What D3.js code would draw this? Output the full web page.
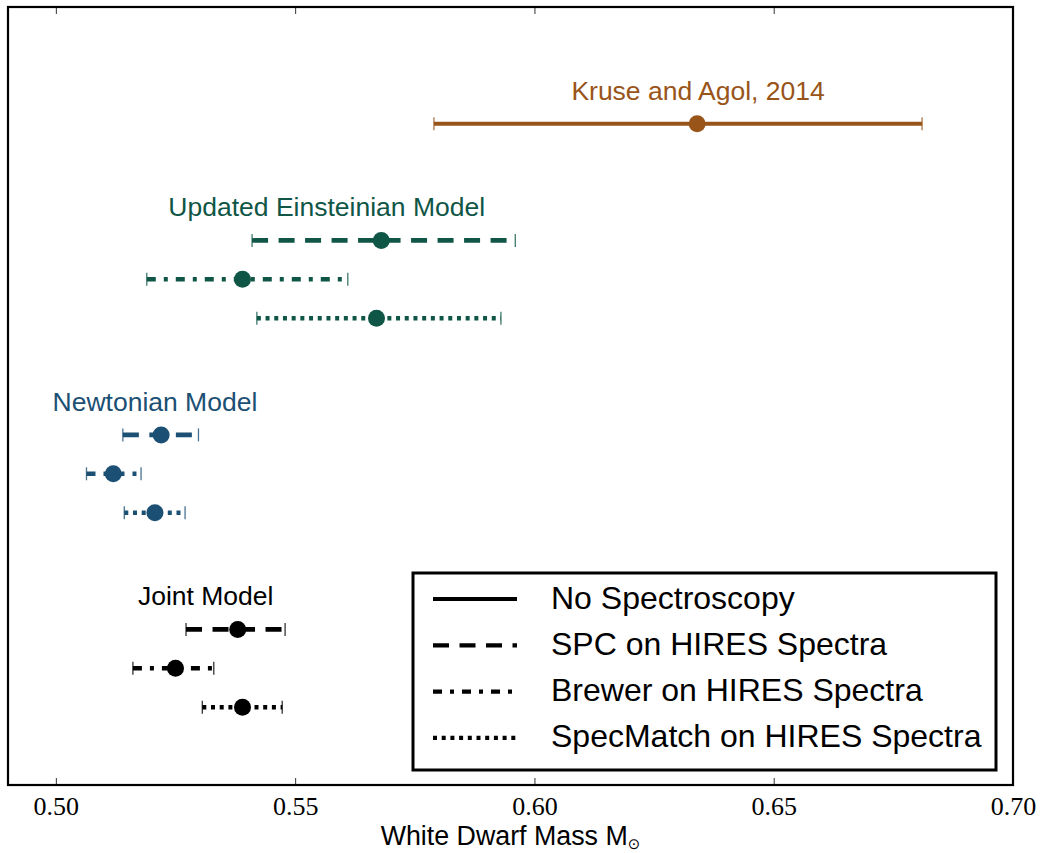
<!DOCTYPE html>
<html>
<head>
<meta charset="utf-8">
<script src="https://cdn.jsdelivr.net/npm/d3@7"></script>
<style>
  body { margin: 0; background: #fff; }
  text { font-family: "Liberation Sans", Arial, sans-serif; }
</style>
</head>
<body>
<svg id="chart" width="1040" height="853"></svg>
<script>
// groups and methods
const groupNames = ['Kruse and Agol, 2014', 'Updated Einsteinian Model', 'Newtonian Model', 'Joint Model'];
const groupLabelMass = [0.6342, 0.5566, 0.5207, 0.5313];
const methodNames = ['No Spectroscopy', 'SPC on HIRES Spectra', 'Brewer on HIRES Spectra', 'SpecMatch on HIRES Spectra'];

// one entry per error bar, top to bottom
const rowGroup  = [0, 1, 1, 1, 2, 2, 2, 3, 3, 3];
const rowMethod = [0, 1, 2, 3, 1, 2, 3, 1, 2, 3];
const rowPos    = [0, 3, 4, 5, 8, 9, 10, 13, 14, 15];
const massMid   = [0.634, 0.568, 0.539, 0.567, 0.522, 0.512, 0.5207, 0.538, 0.525, 0.539];
const massLow   = [0.579, 0.541, 0.519, 0.542, 0.514, 0.5064, 0.5143, 0.5272, 0.5161, 0.5306];
const massHigh  = [0.681, 0.596, 0.561, 0.593, 0.5298, 0.5178, 0.527, 0.5479, 0.533, 0.5473];

const xTicks = [0.50, 0.55, 0.60, 0.65, 0.70];

const groupColors = ['#99541a', '#0f5646', '#1b4f73', '#000000'];
const methodDash = [null, '16,10.5', '9,8,4,8', '4,4.7'];

const svg = d3.select('#chart');
const frame = {left: 8, top: 7, right: 1013, bottom: 785};

const x = d3.scaleLinear().domain([0.49, 0.70]).range([frame.left, frame.right]);
const y = d3.scaleLinear().domain([-3, 17]).range([frame.top, frame.bottom]);

const rows = massMid.map((m, i) => ({
    mid: m, lo: massLow[i], hi: massHigh[i],
    group: rowGroup[i], method: rowMethod[i], pos: rowPos[i]
}));

// axes
const axisB = svg.append('g').attr('transform', 'translate(0,' + frame.bottom + ')')
    .call(d3.axisBottom(x).tickValues(xTicks).tickFormat(d3.format('.2f')).tickSizeInner(-7).tickSizeOuter(0).tickPadding(11.5));
axisB.select('.domain').remove();
axisB.selectAll('.tick line').attr('stroke', '#333').attr('stroke-width', 1);
axisB.selectAll('.tick text')
    .style('font-family', '"Liberation Serif", "Times New Roman", serif')
    .attr('font-size', 26).attr('fill', '#000');

const axisT = svg.append('g').attr('transform', 'translate(0,' + frame.top + ')')
    .call(d3.axisTop(x).tickValues(xTicks).tickFormat('').tickSizeInner(-7).tickSizeOuter(0));
axisT.select('.domain').remove();
axisT.selectAll('.tick line').attr('stroke', '#333').attr('stroke-width', 1);

// frame
svg.append('rect')
    .attr('x', frame.left).attr('y', frame.top)
    .attr('width', frame.right - frame.left).attr('height', frame.bottom - frame.top)
    .attr('fill', 'none').attr('stroke', '#000').attr('stroke-width', 2.2);

// error bars
const bars = svg.append('g').selectAll('g.bar').data(rows).enter().append('g').classed('bar', true);

bars.append('line')
    .attr('x1', (d) => x(d.lo)).attr('x2', (d) => x(d.hi))
    .attr('y1', (d) => y(d.pos)).attr('y2', (d) => y(d.pos))
    .attr('stroke', (d) => groupColors[d.group])
    .attr('stroke-width', (d) => d.method === 0 ? 4 : 4.6)
    .attr('stroke-dasharray', (d) => methodDash[d.method]);

['lo', 'hi'].forEach((k) => {
    bars.append('line')
        .attr('x1', (d) => x(d[k])).attr('x2', (d) => x(d[k]))
        .attr('y1', (d) => y(d.pos) - 6.5).attr('y2', (d) => y(d.pos) + 6.5)
        .attr('stroke', (d) => groupColors[d.group])
        .attr('stroke-opacity', 0.8)
        .attr('stroke-width', 1.3);
});

bars.append('circle')
    .attr('cx', (d) => x(d.mid)).attr('cy', (d) => y(d.pos))
    .attr('r', 8.5)
    .attr('fill', (d) => groupColors[d.group]);

// group labels, above the first row of each group
svg.append('g').selectAll('text').data(groupNames).enter().append('text')
    .attr('x', (d, i) => x(groupLabelMass[i]))
    .attr('y', (d, i) => y(rowPos[rowGroup.indexOf(i)]) - 24)
    .attr('text-anchor', 'middle')
    .attr('font-size', 26.5)
    .attr('fill', (d, i) => groupColors[i])
    .text((d) => d);

// legend
const legend = svg.append('g');
legend.append('rect')
    .attr('x', 413).attr('y', 573).attr('width', 583).attr('height', 197)
    .attr('fill', '#fff').attr('stroke', '#000').attr('stroke-width', 3);

const legendRows = legend.selectAll('g.item').data(methodNames).enter().append('g').classed('item', true)
    .attr('transform', (d, i) => 'translate(0,' + (599 + i * 46.3) + ')');
legendRows.append('line')
    .attr('x1', 433).attr('x2', 517).attr('y1', 0).attr('y2', 0)
    .attr('stroke', '#000').attr('stroke-width', 4.2)
    .attr('stroke-dasharray', (d, i) => methodDash[i]);
legendRows.append('text')
    .attr('x', 551).attr('y', 9.5)
    .attr('font-size', 32)
    .attr('fill', '#000')
    .text((d) => d);

// axis title
const title = svg.append('text')
    .attr('x', (frame.left + frame.right) / 2).attr('y', 845)
    .attr('text-anchor', 'middle')
    .attr('font-size', 26.8)
    .attr('fill', '#000');
title.append('tspan').text('White Dwarf Mass M');
title.append('tspan').attr('font-size', 15).attr('dy', 4)
    .style('font-family', '"DejaVu Sans", sans-serif').text('\u2299');
</script>
</body>
</html>
